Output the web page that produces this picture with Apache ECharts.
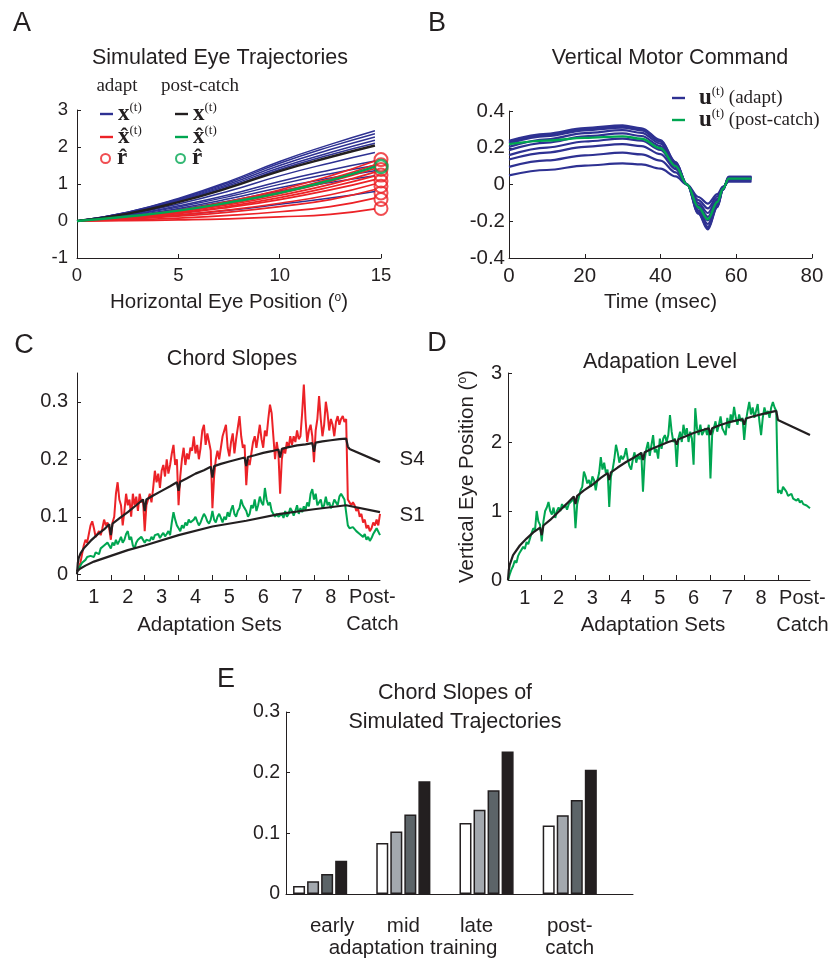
<!DOCTYPE html>
<html><head><meta charset="utf-8">
<script src="https://cdn.jsdelivr.net/npm/echarts@6/dist/echarts.min.js"></script>
<style>html,body{margin:0;padding:0;background:#fff}#c{width:835px;height:962px}</style>
</head><body><div id="c"></div>
<script>
// ---------------- DATA ----------------
// Panel A: horizontal eye position samples (deg) and trajectories (vertical deg)
const aX = [0, 2.5, 5, 7.5, 10, 12.5, 14.7];
const aAdaptX = [
  [0, 0.24, 0.61, 1.07, 1.61, 2.07, 2.44],
  [0, 0.24, 0.59, 1.04, 1.56, 2.01, 2.36],
  [0, 0.23, 0.57, 1.00, 1.50, 1.93, 2.27],
  [0, 0.22, 0.55, 0.96, 1.44, 1.85, 2.18],
  [0, 0.21, 0.53, 0.92, 1.39, 1.79, 2.10],
  [0, 0.18, 0.46, 0.81, 1.22, 1.57, 1.85],
  [0, 0.16, 0.41, 0.71, 1.07, 1.38, 1.62],
  [0, 0.15, 0.38, 0.66, 0.99, 1.28, 1.50],
  [0, 0.13, 0.34, 0.60, 0.90, 1.16, 1.36],
  [0, 0.12, 0.31, 0.54, 0.81, 1.04, 1.22],
  [0, 0.06, 0.16, 0.29, 0.45, 0.62, 0.80]
];
const aAdaptXhat = [
  [0, 0.11, 0.29, 0.53, 0.84, 1.22, 1.62],
  [0, 0.11, 0.27, 0.50, 0.79, 1.14, 1.52],
  [0, 0.10, 0.26, 0.47, 0.74, 1.07, 1.42],
  [0, 0.09, 0.24, 0.44, 0.69, 0.99, 1.32],
  [0, 0.09, 0.22, 0.40, 0.63, 0.92, 1.22],
  [0, 0.08, 0.20, 0.37, 0.58, 0.84, 1.12],
  [0, 0.06, 0.16, 0.30, 0.48, 0.71, 1.00],
  [0, 0.05, 0.13, 0.24, 0.39, 0.58, 0.85],
  [0, 0.03, 0.08, 0.15, 0.25, 0.39, 0.62],
  [0, 0.01, 0.03, 0.06, 0.11, 0.18, 0.33]
];
const aPostX = [0, 0.20, 0.51, 0.90, 1.35, 1.73, 2.04];
const aPostXhat = [0, 0.12, 0.28, 0.50, 0.76, 1.10, 1.47];
const aTargetX = 15;
const aAdaptR = [1.66, 1.52, 1.39, 1.24, 1.08, 0.94, 0.76, 0.58, 0.34];
const aPostR = [1.47];

// Panel B: time (msec) and vertical motor command
const bT = [0, 10, 20, 30, 35, 40, 44, 47, 50, 52.5, 55, 56.5, 58, 64];
const bAdaptU = [
  [0.050, 0.079, 0.103, 0.115, 0.109, 0.086, 0.044, 0, -0.068, -0.104, -0.052, -0.012, 0.015, 0.015],
  [0.096, 0.131, 0.159, 0.173, 0.164, 0.130, 0.066, 0, -0.085, -0.130, -0.065, -0.016, 0.020, 0.020],
  [0.136, 0.174, 0.205, 0.220, 0.209, 0.165, 0.084, 0, -0.101, -0.155, -0.078, -0.019, 0.025, 0.025],
  [0.160, 0.201, 0.234, 0.250, 0.238, 0.188, 0.095, 0, -0.114, -0.176, -0.088, -0.021, 0.030, 0.030],
  [0.187, 0.228, 0.262, 0.278, 0.264, 0.209, 0.106, 0, -0.127, -0.195, -0.098, -0.023, 0.033, 0.033],
  [0.205, 0.246, 0.280, 0.296, 0.281, 0.222, 0.112, 0, -0.140, -0.215, -0.108, -0.026, 0.036, 0.036],
  [0.224, 0.263, 0.295, 0.310, 0.295, 0.233, 0.118, 0, -0.150, -0.230, -0.115, -0.028, 0.040, 0.040],
  [0.232, 0.270, 0.301, 0.316, 0.300, 0.237, 0.120, 0, -0.155, -0.238, -0.119, -0.029, 0.041, 0.041],
  [0.238, 0.276, 0.307, 0.322, 0.306, 0.242, 0.122, 0, -0.159, -0.245, -0.123, -0.029, 0.042, 0.042]
];
const bPostU = [0.220, 0.239, 0.254, 0.262, 0.249, 0.197, 0.100, 0, -0.124, -0.190, -0.095, -0.023, 0.032, 0.032];

// Panels C/D: trial index (20 trials per set, 8 adaptation sets + post-catch)
const setTickTrials = [20, 40, 60, 80, 100, 120, 140, 160];
const setLabelTrials = [10, 30, 50, 70, 90, 110, 130, 150, 174.5];
const setLabels = ['1', '2', '3', '4', '5', '6', '7', '8', 'Post-\nCatch'];

const cS4Data = [
  0.005,0.01,0.02,0.035,0.05,0.06,0.055,0.07,0.085,0.092,0.08,0.065,0.07,0.075,0.068,0.08,0.095,0.085,0.09,0.08,
  0.06,0.09,0.10,0.14,0.16,0.13,0.12,0.085,0.11,0.14,0.12,0.13,0.10,0.14,0.12,0.135,0.11,0.14,0.125,0.13,
  0.075,0.12,0.13,0.14,0.125,0.15,0.18,0.16,0.175,0.15,0.18,0.19,0.17,0.2,0.175,0.19,0.21,0.225,0.19,0.2,
  0.12,0.17,0.2,0.22,0.19,0.21,0.2,0.22,0.215,0.24,0.21,0.225,0.2,0.22,0.25,0.26,0.225,0.245,0.23,0.215,
  0.115,0.17,0.2,0.215,0.2,0.22,0.24,0.25,0.26,0.22,0.205,0.23,0.245,0.21,0.235,0.255,0.275,0.24,0.22,0.225,
  0.155,0.2,0.19,0.21,0.23,0.24,0.22,0.24,0.26,0.235,0.22,0.25,0.24,0.27,0.295,0.28,0.24,0.2,0.23,0.21,
  0.14,0.2,0.22,0.21,0.23,0.22,0.24,0.225,0.24,0.23,0.25,0.235,0.24,0.28,0.33,0.27,0.23,0.25,0.26,0.24,
  0.195,0.25,0.27,0.31,0.27,0.24,0.26,0.30,0.28,0.25,0.27,0.26,0.24,0.265,0.275,0.26,0.27,0.275,0.265,0.27,
  0.13,0.125,0.12,0.125,0.12,0.11,0.115,0.1,0.105,0.09,0.095,0.08,0.085,0.075,0.08,0.09,0.085,0.095,0.085,0.105
];
const cS1Data = [
  0.005,0.01,0.015,0.02,0.018,0.025,0.03,0.028,0.032,0.035,0.03,0.038,0.04,0.035,0.045,0.042,0.05,0.048,0.055,0.05,
  0.045,0.055,0.05,0.06,0.052,0.058,0.065,0.055,0.06,0.07,0.075,0.06,0.065,0.05,0.045,0.055,0.06,0.058,0.065,0.062,
  0.055,0.06,0.062,0.058,0.065,0.06,0.068,0.065,0.07,0.063,0.068,0.072,0.066,0.07,0.075,0.068,0.09,0.108,0.095,0.085,
  0.08,0.075,0.085,0.08,0.09,0.085,0.095,0.09,0.088,0.095,0.1,0.092,0.085,0.09,0.098,0.105,0.1,0.092,0.088,0.095,
  0.11,0.095,0.09,0.1,0.105,0.098,0.09,0.1,0.095,0.108,0.1,0.112,0.12,0.105,0.1,0.11,0.115,0.13,0.12,0.115,
  0.11,0.1,0.105,0.12,0.115,0.13,0.11,0.12,0.135,0.125,0.12,0.15,0.13,0.12,0.125,0.11,0.105,0.1,0.105,0.1,
  0.1,0.105,0.098,0.11,0.1,0.105,0.115,0.11,0.102,0.11,0.12,0.105,0.115,0.108,0.118,0.112,0.125,0.118,0.14,0.148,
  0.13,0.14,0.12,0.125,0.13,0.115,0.12,0.135,0.12,0.125,0.115,0.12,0.13,0.125,0.12,0.135,0.14,0.135,0.13,0.128,
  0.085,0.08,0.078,0.082,0.08,0.075,0.078,0.07,0.072,0.065,0.07,0.06,0.065,0.058,0.063,0.07,0.075,0.08,0.078,0.068
];
const cS4Model = [
  [0,0.0],[0.5,0.02],[1,0.028],[2,0.036],[4,0.045],[8,0.058],[12,0.069],[16,0.078],[19,0.087],
  [20,0.068],[21,0.088],[25,0.097],[30,0.108],[35,0.12],[39,0.13],
  [40,0.11],[41,0.13],[45,0.137],[50,0.145],[55,0.153],[59,0.16],
  [60,0.145],[61,0.161],[65,0.167],[70,0.175],[75,0.181],[79,0.187],
  [80,0.168],[81,0.188],[85,0.192],[90,0.196],[95,0.2],[99,0.203],
  [100,0.188],[101,0.204],[105,0.207],[110,0.211],[115,0.214],[119,0.217],
  [120,0.203],[121,0.218],[125,0.221],[130,0.224],[135,0.226],[139,0.228],
  [140,0.213],[141,0.229],[145,0.231],[150,0.233],[155,0.235],[159,0.236],
  [160,0.222],[161,0.218],[179,0.195]
];
const cS1Model = [
  [0,0.005],[2,0.01],[5,0.015],[10,0.022],[20,0.032],[30,0.042],[40,0.05],[60,0.068],
  [80,0.083],[100,0.093],[120,0.105],[140,0.113],[159,0.12],[179,0.108]
];
const cYTicks = [0, 0.1, 0.2, 0.3];

const dData = [
  0.0,0.08,0.15,0.2,0.28,0.25,0.35,0.4,0.38,0.48,0.45,0.55,0.52,0.6,0.68,0.75,0.72,1.0,0.85,0.8,
  0.56,0.85,1.0,1.05,1.13,1.0,0.95,1.05,0.9,1.0,1.05,1.0,1.1,1.05,1.08,1.02,1.1,1.12,1.15,1.2,
  0.75,1.1,1.2,1.3,1.35,1.57,1.5,1.4,1.45,1.35,1.5,1.45,1.3,1.45,1.55,1.78,1.6,1.7,1.55,1.6,
  1.06,1.5,1.6,1.75,1.96,1.85,1.7,1.8,1.75,1.8,1.91,1.75,1.65,1.6,1.75,1.85,1.7,1.8,1.75,1.85,
  1.28,1.75,1.9,2.0,1.8,1.95,2.1,1.85,1.9,1.76,2.05,1.9,2.05,2.1,2.0,2.1,2.39,2.15,2.0,2.05,
  1.64,2.05,2.15,2.0,2.25,2.1,2.2,2.0,2.15,2.05,1.67,2.49,2.2,2.1,2.25,2.1,2.15,2.2,2.1,2.25,
  1.47,2.1,2.2,2.3,2.15,2.25,2.37,2.2,2.15,2.1,2.35,2.2,2.4,2.3,2.51,2.35,2.25,2.4,2.3,2.35,
  2.03,2.3,2.45,2.58,2.4,2.5,2.35,2.45,2.55,2.3,2.1,2.35,2.5,2.4,2.45,2.35,2.5,2.58,2.5,2.45,
  1.26,1.3,1.25,1.35,1.33,1.28,1.22,1.2,1.25,1.18,1.2,1.15,1.18,1.12,1.15,1.1,1.12,1.08,1.06,1.04
];
const dModel = [
  [0,0.0],[0.5,0.15],[1,0.22],[3,0.36],[7,0.5],[11,0.6],[15,0.69],[19,0.76],
  [20,0.65],[21,0.79],[25,0.87],[30,0.99],[35,1.11],[39,1.21],
  [40,1.1],[41,1.22],[45,1.3],[50,1.38],[55,1.48],[59,1.55],
  [60,1.45],[61,1.56],[65,1.63],[70,1.71],[75,1.78],[79,1.84],
  [80,1.74],[81,1.85],[85,1.9],[90,1.95],[95,2.0],[99,2.03],
  [100,1.96],[101,2.04],[105,2.08],[110,2.13],[115,2.17],[119,2.2],
  [120,2.1],[121,2.2],[125,2.24],[130,2.28],[135,2.31],[139,2.33],
  [140,2.25],[141,2.34],[145,2.37],[150,2.4],[155,2.43],[159,2.45],
  [160,2.32],[161,2.3],[179,2.1]
];

// Panel E: chord slopes per phase, four trajectory groups (S1..S4)
const eGroups = ['early', 'mid', 'late', 'post-\ncatch'];
const eGroupPos = [1, 2, 3, 4];
const eS1 = [0.013, 0.084, 0.117, 0.113];
const eS2 = [0.021, 0.103, 0.139, 0.130];
const eS3 = [0.033, 0.131, 0.171, 0.155];
const eS4 = [0.055, 0.186, 0.235, 0.205];

// ---------------- STYLE ----------------
const INK = '#231f20', BLUE = '#2e3192', RED = '#ec2227', GREEN = '#00a651';
const FONT = "'Liberation Sans', Arial, Helvetica, sans-serif";
const SERIF = "'Liberation Serif', 'DejaVu Serif', 'Times New Roman', serif";
const TITLE_FS = 21.5, NAME_FS = 20.5;

function merge(a, b) {
  const o = Object.assign({}, a);
  for (const k in b) {
    const v = b[k];
    if (v && typeof v === 'object' && !Array.isArray(v) && a[k] && typeof a[k] === 'object' && !Array.isArray(a[k])) o[k] = merge(a[k], v);
    else o[k] = v;
  }
  return o;
}
const baseAxis = {
  type: 'value', splitLine: { show: false }, nameMoveOverlap: false,
  axisLine: { show: true, onZero: false, lineStyle: { color: INK, width: 1 } },
  axisTick: { show: true, inside: true, length: 4, lineStyle: { color: INK, width: 1 } },
  axisLabel: { color: INK, fontFamily: FONT, fontSize: 19 },
  nameTextStyle: { color: INK, fontFamily: FONT, fontSize: NAME_FS,
    rich: { s: { fontSize: 12, fontFamily: FONT, color: INK, verticalAlign: 'top' } } }
};

const series = [];
function line(name, xi, data, color, width, extra) {
  series.push(Object.assign({ type: 'line', name: name, xAxisIndex: xi, yAxisIndex: xi, data: data,
    symbol: 'none', color: color, lineStyle: { color: color, width: width }, silent: true, animation: false }, extra || {}));
}
// A
aAdaptX.forEach(c => line('adaptX', 0, aX.map((x, i) => [x, c[i]]), BLUE, 1.5, { smooth: true }));
aAdaptXhat.forEach(c => line('adaptXhat', 0, aX.map((x, i) => [x, c[i]]), RED, 1.7, { smooth: true }));
line('postX', 0, aX.map((x, i) => [x, aPostX[i]]), INK, 2.4, { smooth: true });
line('postXhat', 0, aX.map((x, i) => [x, aPostXhat[i]]), GREEN, 2.4, { smooth: true });
series.push({ type: 'scatter', name: 'adaptR', xAxisIndex: 0, yAxisIndex: 0, symbol: 'circle', symbolSize: 13,
  data: aAdaptR.map(v => [aTargetX, v]), color: RED, silent: true,
  itemStyle: { color: 'rgba(0,0,0,0)', borderColor: RED, borderWidth: 2 } });
series.push({ type: 'scatter', name: 'postR', xAxisIndex: 0, yAxisIndex: 0, symbol: 'circle', symbolSize: 13,
  data: aPostR.map(v => [aTargetX, v]), color: GREEN, silent: true,
  itemStyle: { color: 'rgba(0,0,0,0)', borderColor: GREEN, borderWidth: 2.5 } });
// B
bAdaptU.forEach(c => line('adaptU', 1, bT.map((t, i) => [t, c[i]]), BLUE, 2.2, { smooth: 0.35, smoothMonotone: 'x' }));
line('postU', 1, bT.map((t, i) => [t, bPostU[i]]), GREEN, 2.4, { smooth: 0.35, smoothMonotone: 'x' });
// C
line('S4 data', 2, cS4Data.map((v, i) => [i, v]), RED, 2);
line('S1 data', 2, cS1Data.map((v, i) => [i, v]), GREEN, 2);
line('S4 model', 2, cS4Model, INK, 2.2);
line('S1 model', 2, cS1Model, INK, 2.2);
// D
line('D data', 3, dData.map((v, i) => [i, v]), GREEN, 2);
line('D model', 3, dModel, INK, 2.2);
// E
const eFills = ['#ffffff', '#a3a8ae', '#5c6468', INK];
[eS1, eS2, eS3, eS4].forEach((arr, k) => {
  series.push({ type: 'bar', name: 'S' + (k + 1), xAxisIndex: 4, yAxisIndex: 4, barWidth: 12, barGap: '17%',
    data: arr.map((v, i) => [eGroupPos[i], v]), silent: true,
    itemStyle: { color: eFills[k], borderColor: INK, borderWidth: 1.5 } });
});

const legRich = {
  b: { fontFamily: SERIF, fontWeight: 'bold', fontSize: 23, color: INK, lineHeight: 26 },
  bu: { fontFamily: SERIF, fontWeight: 'bold', fontSize: 23, color: INK, lineHeight: 26, padding: [0, 0, 0, 9] },
  s: { fontFamily: SERIF, fontSize: 13, color: INK, verticalAlign: 'top' },
  r: { fontFamily: SERIF, fontSize: 19, color: INK, lineHeight: 26 }
};
const legendText = {
  adaptX: '{b|x}{s|(t)}', adaptXhat: '{b|x\u0302}{s|(t)}', adaptR: '{b|r\u0302}',
  postX: '{b|x}{s|(t)}', postXhat: '{b|x\u0302}{s|(t)}', postR: '{b|r\u0302}',
  adaptU: '{bu|u}{s|(t)}{r| (adapt)}', postU: '{bu|u}{s|(t)}{r| (post-catch)}'
};
const LINE_ICON = 'path://M0,0H13V2.4H0Z';
function legend(name, icon, left, top) {
  return { data: [{ name: name, icon: icon }], left: left, top: top, orient: 'vertical', padding: 0,
    itemWidth: 13, itemHeight: 9, selectedMode: false, symbolKeepAspect: true,
    formatter: n => legendText[n],
    textStyle: { color: INK, fontFamily: SERIF, fontSize: 19, rich: legRich } };
}
function gtext(text, x, y, size, family) {
  return { type: 'text', x: x, y: y, silent: true,
    style: { text: text, fontSize: size, fontFamily: family || FONT, fill: INK, align: 'center', verticalAlign: 'middle' } };
}

const option = {
  animation: false,
  backgroundColor: '#ffffff',
  grid: [
    { left: 77, top: 110, width: 304, height: 148 },
    { left: 509, top: 111, width: 303, height: 147 },
    { left: 77, top: 373, width: 303, height: 207 },
    { left: 508, top: 373, width: 302, height: 207 },
    { left: 286, top: 712, width: 347, height: 182 }
  ],
  xAxis: [
    merge(baseAxis, { gridIndex: 0, min: 0, max: 15, interval: 5, axisLabel: { margin: 8, fontSize: 18.5 },
      name: 'Horizontal Eye Position ({s|o})', nameLocation: 'middle', nameGap: 34 }),
    merge(baseAxis, { gridIndex: 1, min: 0, max: 80, interval: 20, axisLabel: { margin: 8, fontSize: 20.5 },
      name: 'Time (msec)', nameLocation: 'middle', nameGap: 34 }),
    merge(baseAxis, { gridIndex: 2, min: 0, max: 179,
      axisTick: { customValues: setTickTrials, length: 5 },
      axisLabel: { customValues: setLabelTrials, formatter: v => setLabels[setLabelTrials.indexOf(v)], lineHeight: 27, margin: 4, fontSize: 20 },
      name: 'Adaptation Sets', nameLocation: 'middle', nameGap: 35, nameTextStyle: { padding: [0, 38, 0, 0] } }),
    merge(baseAxis, { gridIndex: 3, min: 0, max: 179,
      axisTick: { customValues: setTickTrials, length: 5 },
      axisLabel: { customValues: setLabelTrials, formatter: v => setLabels[setLabelTrials.indexOf(v)], lineHeight: 27, margin: 5, fontSize: 20 },
      name: 'Adaptation Sets', nameLocation: 'middle', nameGap: 35, nameTextStyle: { padding: [0, 12, 0, 0] } }),
    merge(baseAxis, { gridIndex: 4, min: 0.59, max: 4.76, axisTick: { show: false },
      axisLabel: { customValues: eGroupPos, margin: 21, lineHeight: 22, fontSize: 20.5,
        formatter: v => { const i = eGroupPos.indexOf(v); const t = eGroups[i];
          return i === 0 ? '{e|' + t + '}' : (i === 2 ? '{l|' + t + '}' : t); },
        rich: { e: { fontSize: 20.5, fontFamily: FONT, color: INK, padding: [0, 0, 0, 24] },
                l: { fontSize: 20.5, fontFamily: FONT, color: INK, padding: [0, 20, 0, 0] } } },
      name: 'adaptation training', nameLocation: 'middle', nameGap: 44, nameTextStyle: { padding: [0, 93, 0, 0] } })
  ],
  yAxis: [
    merge(baseAxis, { gridIndex: 0, min: -1, max: 3, interval: 1, axisLabel: { margin: 9, fontSize: 18.5 } }),
    merge(baseAxis, { gridIndex: 1, min: -0.4, max: 0.4, interval: 0.2, axisLabel: { margin: 4, fontSize: 20.5 } }),
    merge(baseAxis, { gridIndex: 2, min: -0.01, max: 0.35, axisTick: { customValues: cYTicks },
      axisLabel: { customValues: cYTicks, margin: 9, fontSize: 20 } }),
    merge(baseAxis, { gridIndex: 3, min: 0, max: 3, interval: 1, axisLabel: { margin: 6, fontSize: 20 },
      name: 'Vertical Eye Position ({s|o})', nameLocation: 'middle', nameGap: 30 }),
    merge(baseAxis, { gridIndex: 4, min: 0, max: 0.3, interval: 0.1, axisLabel: { margin: 6, fontSize: 19.5 } })
  ],
  legend: [
    legend('adaptX', LINE_ICON, 100, 101),
    legend('adaptXhat', LINE_ICON, 100, 124),
    legend('adaptR', 'circle', 100, 147),
    legend('postX', LINE_ICON, 175, 101),
    legend('postXhat', LINE_ICON, 175, 124),
    legend('postR', 'circle', 175, 147),
    legend('adaptU', LINE_ICON, 672, 85),
    legend('postU', LINE_ICON, 672, 107)
  ],
  graphic: [
    gtext('A', 22, 24, 27), gtext('B', 437, 24, 27), gtext('C', 24, 346, 27), gtext('D', 437, 344, 27), gtext('E', 226, 680, 27),
    gtext('Simulated Eye Trajectories', 220, 58, TITLE_FS),
    gtext('Vertical Motor Command', 670, 58, TITLE_FS),
    gtext('Chord Slopes', 232, 359, TITLE_FS),
    gtext('Adapation Level', 660, 362, TITLE_FS),
    gtext('Chord Slopes of', 455, 693, TITLE_FS),
    gtext('Simulated Trajectories', 455, 722, TITLE_FS),
    gtext('adapt', 117, 86, 19, SERIF),
    gtext('post-catch', 200, 86, 19, SERIF),
    gtext('S4', 412, 459, NAME_FS),
    gtext('S1', 412, 515, NAME_FS)
  ],
  series: series
};
const chart = echarts.init(document.getElementById('c'), null, { renderer: 'canvas' });
chart.setOption(option);
</script></body></html>
